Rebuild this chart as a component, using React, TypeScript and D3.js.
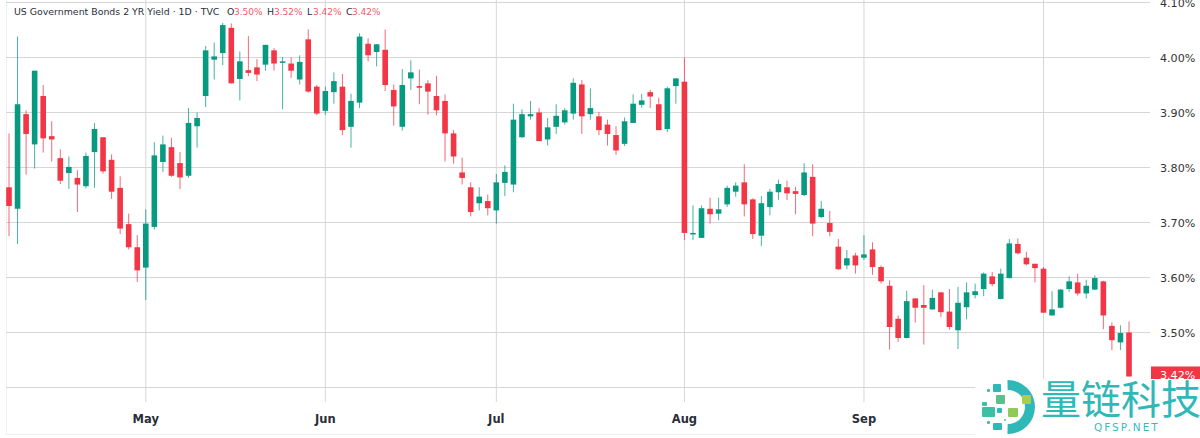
import React from "react";
import * as d3 from "d3";

const opens = [
  3.764, 3.725, 3.897, 3.842, 3.93, 3.857, 3.817, 3.79, 3.781, 3.766,
  3.828, 3.855, 3.814, 3.763, 3.697, 3.655, 3.618, 3.692, 3.81, 3.837,
  3.808, 3.785, 3.875, 3.93, 3.996, 4.008, 4.054, 3.961, 3.977, 3.982,
  3.987, 4.013, 3.992, 3.989, 3.96, 4.033, 3.947, 3.903, 3.937, 3.947,
  3.874, 3.918, 4.025, 4.01, 4.014, 3.941, 3.874, 3.962, 3.948, 3.953,
  3.93, 3.921, 3.862, 3.791, 3.764, 3.735, 3.739, 3.722, 3.772, 3.769,
  3.855, 3.893, 3.9, 3.851, 3.874, 3.882, 3.898, 3.951, 3.897, 3.893,
  3.878, 3.859, 3.843, 3.881, 3.914, 3.937, 3.915, 3.87, 3.948, 3.956,
  3.679, 3.672, 3.725, 3.716, 3.733, 3.756, 3.773, 3.742, 3.676, 3.728,
  3.755, 3.764, 3.757, 3.75, 3.783, 3.71, 3.699, 3.656, 3.622, 3.64,
  3.636, 3.651, 3.619, 3.585, 3.525, 3.49, 3.562, 3.55, 3.542, 3.573,
  3.538, 3.504, 3.546, 3.568, 3.579, 3.602, 3.561, 3.599, 3.661, 3.636,
  3.625, 3.616, 3.531, 3.545, 3.579, 3.591, 3.571, 3.578, 3.593, 3.512,
  3.482, 3.5,
];

const highs = [
  3.862, 4.038, 3.904, 3.976, 3.95, 3.884, 3.833, 3.82, 3.795, 3.827,
  3.881, 3.855, 3.824, 3.784, 3.716, 3.677, 3.724, 3.846, 3.858, 3.854,
  3.828, 3.908, 3.9, 4.021, 4.027, 4.063, 4.062, 4.011, 4.039, 3.997,
  4.023, 4.017, 4.001, 4.0, 4.004, 4.051, 3.95, 3.947, 3.973, 3.97,
  3.934, 4.044, 4.035, 4.024, 4.051, 3.951, 3.979, 3.995, 3.978, 3.959,
  3.967, 3.933, 3.868, 3.818, 3.773, 3.764, 3.751, 3.788, 3.804, 3.916,
  3.906, 3.921, 3.908, 3.89, 3.915, 3.908, 3.962, 3.959, 3.944, 3.901,
  3.887, 3.875, 3.891, 3.933, 3.934, 3.941, 3.927, 3.947, 3.962, 4.0,
  3.731, 3.731, 3.745, 3.745, 3.767, 3.773, 3.806, 3.744, 3.748, 3.761,
  3.778, 3.776, 3.765, 3.808, 3.806, 3.739, 3.721, 3.67, 3.65, 3.645,
  3.677, 3.664, 3.622, 3.595, 3.531, 3.576, 3.562, 3.586, 3.578, 3.573,
  3.579, 3.583, 3.591, 3.589, 3.609, 3.61, 3.616, 3.67, 3.671, 3.647,
  3.625, 3.619, 3.575, 3.579, 3.602, 3.607, 3.596, 3.604, 3.594, 3.518,
  3.513, 3.52,
];

const lows = [
  3.675, 3.661, 3.787, 3.798, 3.827, 3.811, 3.77, 3.761, 3.719, 3.762,
  3.763, 3.789, 3.743, 3.679, 3.651, 3.592, 3.559, 3.687, 3.792, 3.783,
  3.761, 3.781, 3.836, 3.91, 3.96, 3.986, 3.953, 3.922, 3.966, 3.957,
  3.976, 3.976, 3.906, 3.963, 3.951, 3.936, 3.895, 3.896, 3.916, 3.859,
  3.836, 3.908, 3.993, 3.984, 3.939, 3.876, 3.867, 3.941, 3.915, 3.896,
  3.895, 3.811, 3.807, 3.769, 3.711, 3.722, 3.713, 3.698, 3.748, 3.755,
  3.854, 3.887, 3.848, 3.84, 3.861, 3.878, 3.887, 3.861, 3.887, 3.859,
  3.84, 3.823, 3.839, 3.881, 3.909, 3.908, 3.868, 3.864, 3.916, 3.668,
  3.668, 3.672, 3.698, 3.704, 3.728, 3.747, 3.711, 3.67, 3.657, 3.713,
  3.741, 3.741, 3.715, 3.748, 3.675, 3.708, 3.675, 3.614, 3.615, 3.607,
  3.632, 3.605, 3.589, 3.469, 3.483, 3.489, 3.518, 3.478, 3.541, 3.528,
  3.505, 3.47, 3.524, 3.562, 3.566, 3.584, 3.56, 3.598, 3.642, 3.622,
  3.591, 3.536, 3.531, 3.544, 3.574, 3.567, 3.562, 3.577, 3.506, 3.468,
  3.468, 3.42,
];

const closes = [
  3.73, 3.915, 3.861, 3.976, 3.853, 3.851, 3.776, 3.801, 3.769, 3.821,
  3.87, 3.793, 3.756, 3.689, 3.655, 3.613, 3.698, 3.822, 3.842, 3.785,
  3.782, 3.881, 3.89, 4.013, 4.002, 4.059, 3.953, 3.993, 3.972, 3.969,
  4.023, 3.989, 3.993, 3.976, 3.992, 3.938, 3.898, 3.939, 3.957, 3.868,
  3.921, 4.038, 4.004, 4.024, 3.95, 3.911, 3.95, 3.973, 3.945, 3.938,
  3.904, 3.862, 3.82, 3.781, 3.719, 3.747, 3.726, 3.773, 3.792, 3.887,
  3.897, 3.897, 3.848, 3.873, 3.894, 3.904, 3.954, 3.893, 3.908, 3.868,
  3.861, 3.831, 3.884, 3.916, 3.922, 3.929, 3.868, 3.944, 3.962, 3.681,
  3.681, 3.726, 3.715, 3.724, 3.763, 3.767, 3.733, 3.679, 3.735, 3.756,
  3.77, 3.753, 3.752, 3.791, 3.698, 3.725, 3.683, 3.615, 3.635, 3.622,
  3.642, 3.619, 3.593, 3.51, 3.49, 3.557, 3.545, 3.545, 3.563, 3.537,
  3.51, 3.554, 3.573, 3.575, 3.607, 3.588, 3.607, 3.662, 3.644, 3.624,
  3.617, 3.536, 3.542, 3.578, 3.593, 3.571, 3.585, 3.599, 3.531, 3.486,
  3.499, 3.42,
];

const yieldTicks = [3.4, 3.5, 3.6, 3.7, 3.8, 3.9, 4.0, 4.1];
const monthLabels = ["May", "Jun", "Jul", "Aug", "Sep", "Oct"];
const monthStarts = [16, 37, 57, 79, 100, 121];

const UP = "#089981";
const DOWN = "#f23645";
const GRID = "#d6d6d9";
const TEAL = "#2fb8b8";
const FONT = "'DejaVu Sans', sans-serif";

const x = d3.scaleLinear().domain([0, 131]).range([9, 1129]);
const y = d3.scaleLinear().domain([3.4, 4.1]).range([387.5, 2.5]);
const pct = d3.format(".2f");

// watermark squares of the logo: x, y, w, h, colour
const logoSquares = [
  [993, 384, 8, 8, "#2fb8b8"], [996, 395, 9, 9, "#5cc08a"], [1022, 395, 9, 9, "#a9cf45"],
  [982, 407, 13, 10, "#3cc0a4"], [1008, 408, 10, 9, "#8fc95a"], [997, 408, 5, 5, "#2fb8b8"],
  [993, 423, 9, 7, "#2fb8b8"], [982, 402, 5, 4, "#3cc0a4"], [987, 389, 3, 3, "#3cc0a4"],
  [987, 421, 3, 3, "#3cc0a4"], [1004, 419, 2, 2, "#3cc0a4"],
] as const;

export default function App() {
  const logoArc = d3.arc()({
    innerRadius: 17,
    outerRadius: 27,
    startAngle: -0.02,
    endAngle: Math.PI + 0.02,
  }) as string;

  return (
    <svg
      width={1200}
      height={438}
      style={{ position: "absolute", left: 0, top: 0, background: "#fff" }}
      fontFamily={FONT}
    >
      <line x1={6.5} x2={6.5} y1={0} y2={434} stroke="#efeff1" />
      <line x1={6} x2={1200} y1={434.5} y2={434.5} stroke="#efeff1" />

      {yieldTicks.map((t) => (
        <line key={t} x1={6} x2={1150} y1={y(t)} y2={y(t)} stroke={GRID} strokeWidth={1} />
      ))}
      {monthStarts.map((m) => (
        <line key={m} x1={x(m)} x2={x(m)} y1={0} y2={402} stroke={GRID} strokeWidth={1} />
      ))}

      {opens.map((o, i) => {
        const c = closes[i];
        const color = c >= o ? UP : DOWN;
        const top = y(Math.max(o, c));
        const bot = y(Math.min(o, c));
        return (
          <g key={i}>
            <line
              x1={x(i)}
              x2={x(i)}
              y1={y(highs[i])}
              y2={y(lows[i])}
              stroke={color}
              strokeOpacity={0.75}
              strokeWidth={1}
            />
            <rect x={x(i) - 2.8} y={top} width={5.6} height={Math.max(bot - top, 1.5)} fill={color} />
          </g>
        );
      })}

      {yieldTicks.slice(1).map((t) => (
        <text key={t} x={1160} y={y(t) + 4.5} fontSize={11.1} fill="#333">
          {pct(t)}%
        </text>
      ))}
      {monthLabels.slice(0, 5).map((m, i) => (
        <text
          key={m}
          x={x(monthStarts[i])}
          y={423}
          fontSize={11.5}
          fontWeight={700}
          fill="#2a2e39"
          textAnchor="middle"
        >
          {m}
        </text>
      ))}

      <rect x={1151} y={y(closes[131]) - 10} width={49} height={22} fill={DOWN} />
      <text x={1160} y={y(closes[131]) + 2} fontSize={11.1} fill="#fff">
        {pct(closes[131])}%
      </text>

      <g fontSize={9.4}>
        <text x={14} y={15} fill="#2a2e39">US Government Bonds 2 YR Yield · 1D · TVC</text>
        {[
          ["O", opens[131], 227, 234],
          ["H", highs[131], 267, 274],
          ["L", lows[131], 307, 313],
          ["C", closes[131], 346, 352],
        ].map(([label, value, left, valueLeft]) => (
          <g key={label as string}>
            <text x={left as number} y={15} fill="#2a2e39">{label as string}</text>
            <text x={valueLeft as number} y={15} fill={DOWN} fillOpacity={0.85} fontSize={9}>
              {pct(value as number)}%
            </text>
          </g>
        ))}
      </g>

      {/* watermark */}
      <path d="M 975 390 Q 975 379 990 379 L 1200 379 L 1200 438 L 975 438 Z" fill="#fff" />
      <path transform="translate(1008,407)" d={logoArc} fill={TEAL} />
      {logoSquares.map(([sx, sy, w, h, fill], i) => (
        <rect key={i} x={sx} y={sy} width={w} height={h} rx={1} fill={fill} />
      ))}
      <text
        x={1041}
        y={414}
        fontSize={40}
        fontFamily="'Noto Sans CJK SC', sans-serif"
        fill={TEAL}
      >
        量链科技
      </text>
      <text x={1094} y={431} fontSize={10.5} letterSpacing={2} fill="#3bb8c0">
        QFSP.NET
      </text>
    </svg>
  );
}
